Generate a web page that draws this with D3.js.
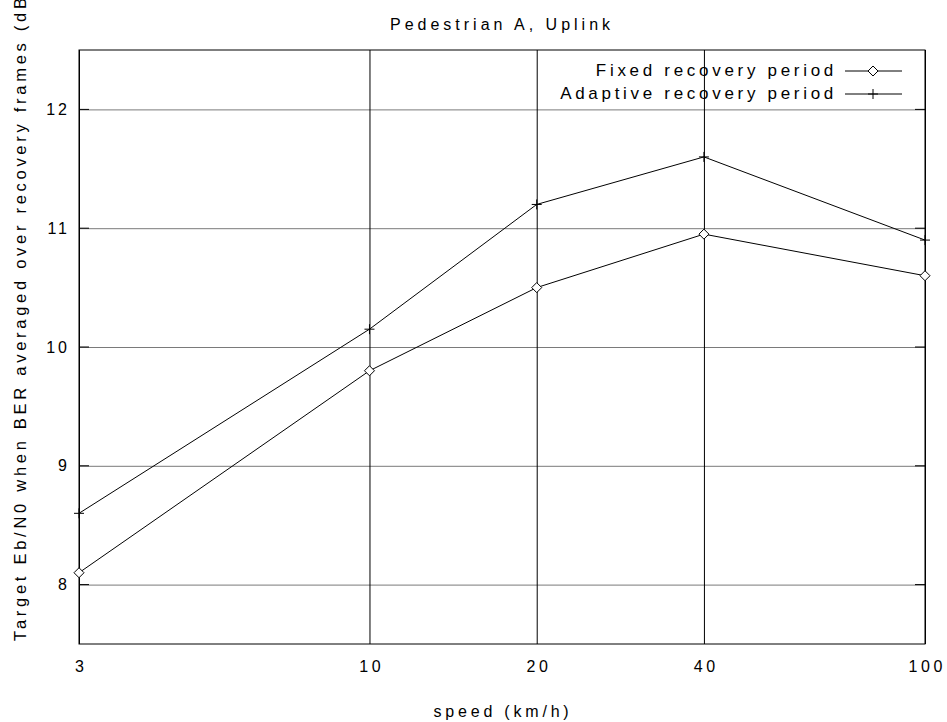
<!DOCTYPE html>
<html>
<head>
<meta charset="utf-8">
<script src="https://cdn.jsdelivr.net/npm/d3@7"></script>
<style>
  body { margin: 0; background: #fff; }
  text { font-family: "Liberation Sans", Arial, sans-serif; fill: #000; }
</style>
</head>
<body>
<script>
var speeds = [3, 10, 20, 40, 100];
var fixedPeriod = [8.1, 9.8, 10.5, 10.95, 10.6];
var adaptivePeriod = [8.6, 10.15, 11.2, 11.6, 10.9];
var xTicks = [3, 10, 20, 40, 100];
var yTicks = [8, 9, 10, 11, 12];
var seriesNames = ["Fixed recovery period", "Adaptive recovery period"];

var svgWidth = 947, svgHeight = 722;
var margin = {top: 50, right: 22, bottom: 78, left: 79};
var width = svgWidth - margin.left - margin.right;
var height = svgHeight - margin.top - margin.bottom;

var svg = d3.select("body").append("svg")
  .attr("width", svgWidth)
  .attr("height", svgHeight);

var chartGroup = svg.append("g")
  .attr("transform", "translate(" + margin.left + "," + margin.top + ")");

var x = d3.scaleLog().domain([3, 100]).range([0, width]);
var y = d3.scaleLinear().domain([7.5, 12.5]).range([height, 0]);

// horizontal grid (grey) with y labels
var yAxis = chartGroup.append("g")
  .call(d3.axisLeft(y).tickValues(yTicks).tickSize(-width).tickPadding(9).tickFormat(d3.format("d")));
yAxis.select(".domain").remove();
yAxis.selectAll("line").attr("stroke", "#7a7a7a");
yAxis.selectAll("text")
  .attr("font-size", "16px")
  .attr("letter-spacing", "3px");

// vertical grid (black) with x labels
var xAxis = chartGroup.append("g")
  .attr("transform", "translate(0," + height + ")")
  .call(d3.axisBottom(x).tickValues(xTicks).tickSize(-height).tickPadding(17).tickFormat(d3.format("d")));
xAxis.select(".domain").remove();
xAxis.selectAll("line").attr("stroke", "#000");
xAxis.selectAll("text")
  .attr("font-size", "16px")
  .attr("letter-spacing", "3.5px")
  .attr("dx", "1.7px");

// short black ticks on the frame
yTicks.forEach(function(v) {
  chartGroup.append("line").attr("x1", 0).attr("x2", 10).attr("y1", y(v)).attr("y2", y(v)).attr("stroke", "#000");
  chartGroup.append("line").attr("x1", width - 10).attr("x2", width).attr("y1", y(v)).attr("y2", y(v)).attr("stroke", "#000");
});

// frame
chartGroup.append("rect")
  .attr("width", width)
  .attr("height", height)
  .attr("fill", "none")
  .attr("stroke", "#000");

var line = d3.line()
  .x(function(d) { return x(d[0]); })
  .y(function(d) { return y(d[1]); });

var fixedData = speeds.map(function(s, i) { return [s, fixedPeriod[i]]; });
var adaptiveData = speeds.map(function(s, i) { return [s, adaptivePeriod[i]]; });

chartGroup.append("path").datum(fixedData)
  .attr("d", line).attr("fill", "none").attr("stroke", "#000").attr("stroke-width", 1);
chartGroup.append("path").datum(adaptiveData)
  .attr("d", line).attr("fill", "none").attr("stroke", "#000").attr("stroke-width", 1);

function diamond(g, cx, cy) {
  g.append("path")
    .attr("d", "M" + cx + "," + (cy - 5) + "L" + (cx + 5) + "," + cy + "L" + cx + "," + (cy + 5) + "L" + (cx - 5) + "," + cy + "Z")
    .attr("fill", "#fff").attr("stroke", "#000");
}
function plus(g, cx, cy) {
  g.append("path")
    .attr("d", "M" + (cx - 5) + "," + cy + "H" + (cx + 5) + "M" + cx + "," + (cy - 5) + "V" + (cy + 5))
    .attr("stroke", "#000");
}

fixedData.forEach(function(d) { diamond(chartGroup, x(d[0]), y(d[1])); });
adaptiveData.forEach(function(d) { plus(chartGroup, x(d[0]), y(d[1])); });

// legend
var legend = svg.append("g");
var legendRows = [22, 45];
seriesNames.forEach(function(name, i) {
  var ly = margin.top + legendRows[i];
  legend.append("text")
    .attr("x", 837)
    .attr("y", ly + 4)
    .attr("text-anchor", "end")
    .attr("font-size", "17px")
    .attr("letter-spacing", "3.7px")
    .text(name);
  legend.append("line")
    .attr("x1", 845).attr("x2", 902)
    .attr("y1", ly - 1).attr("y2", ly - 1)
    .attr("stroke", "#000");
  if (i === 0) diamond(legend, 873, ly - 1);
  else plus(legend, 873, ly - 1);
});

// title
svg.append("text")
  .attr("x", 502)
  .attr("y", 30)
  .attr("text-anchor", "middle")
  .attr("font-size", "16px")
  .attr("letter-spacing", "4px")
  .text("Pedestrian A, Uplink");

// axis labels
svg.append("text")
  .attr("x", 503)
  .attr("y", 717)
  .attr("text-anchor", "middle")
  .attr("font-size", "16px")
  .attr("letter-spacing", "3.8px")
  .text("speed (km/h)");

svg.append("text")
  .attr("transform", "rotate(-90)")
  .attr("x", -641)
  .attr("y", 26)
  .attr("text-anchor", "start")
  .attr("font-size", "16.5px")
  .attr("letter-spacing", "3.72px")
  .text("Target Eb/N0 when BER averaged over recovery frames (dB)");
</script>
</body>
</html>
